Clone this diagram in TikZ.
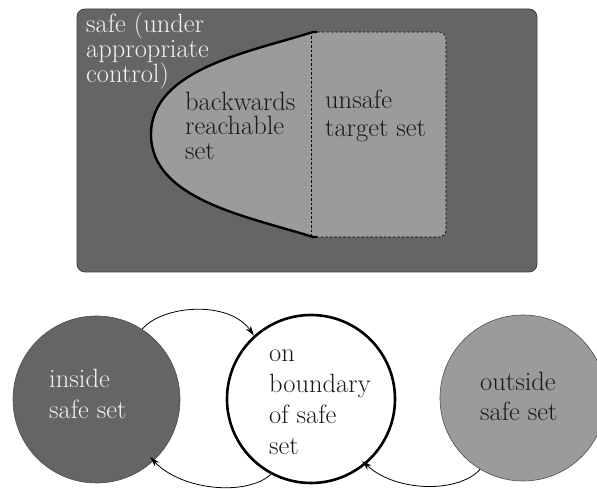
\documentclass[tikz,border=0pt]{standalone}
\usetikzlibrary{arrows.meta}
\definecolor{darkg}{HTML}{656565}
\definecolor{lightg}{HTML}{9B9B9B}
\definecolor{offwhite}{HTML}{F2F2F2}
\newcommand\stk[1]{\vtop{\lineskiplimit=-100pt\halign{##\hfil\cr#1\crcr}}}
\tikzset{
  lbl/.style={anchor=base west, inner sep=0pt, font=\rmfamily\fontsize{26.5}{#1}\selectfont},
  ondark/.style={text=offwhite},
  onlight/.style={text=black!90},
  conn/.style={-{Stealth[length=10pt,width=6pt]}, line width=0.8pt},
  disk/.style={circle, minimum size=#1, inner sep=0pt},
  thindash/.style={dash pattern=on 2.5pt off 2pt, line width=0.6pt},
}
\begin{document}
\begin{tikzpicture}[x=1pt,y=1pt]
\useasboundingbox (0,0) rectangle (597,489);
% outer safe region
\path[fill=darkg, draw=black!75, line width=0.8pt, rounded corners=8pt] (77,217) rectangle (537,480);
% backwards reachable set + target set
\fill[lightg] (313,457) .. controls (250,437) and (151,420) .. (151,354.5)
  .. controls (151,289) and (250,272) .. (313,252)
  -- (439,252) arc[start angle=-90,end angle=0,radius=7]
  -- (446,450) arc[start angle=0,end angle=90,radius=7] -- cycle;
\draw[thindash] (311,457) -- (311,252);
\draw[thindash] (313,457) -- (439,457) arc[start angle=90,end angle=0,radius=7]
  -- (446,259) arc[start angle=0,end angle=-90,radius=7] -- (313,252);
\draw[line width=2.4pt] (317,457) -- (313,457) .. controls (250,437) and (151,420) .. (151,354.5)
  .. controls (151,289) and (250,272) .. (313,252) -- (317,252);
% labels top
\node[lbl=24.7, ondark] (safe) at (86,456) {\stk{safe (under\cr appropriate\cr control)}};
\node[lbl=24.3, onlight] (back) at (185,378.3) {\stk{backwards\cr reachable\cr set}};
\node[lbl=28.4, onlight] (unsafe) at (325,380.7) {\stk{unsafe\cr target set}};
% circles
\node[disk=167pt, fill=darkg, draw=black!70, line width=0.6pt] (L) at (96.5,89.5) {};
\node[disk=168pt, fill=white, draw=black, line width=2.6pt] (M) at (311,90) {};
\node[disk=166pt, fill=lightg, draw=black!70, line width=0.6pt] (R) at (523,91) {};
\node[lbl=31, ondark] (tin) at (49,101) {\stk{inside\cr safe set}};
\node[lbl=30.7, onlight] (ton) at (269,127) {\stk{on\cr boundary\cr of safe\cr set}};
\node[lbl=29.5, onlight] (tout) at (480,98.3) {\stk{outside\cr safe set}};
% transitions
\draw[conn] (L.57) .. controls +(20,24) and +(-25,36) .. (M.132);
\draw[conn, shorten >=-5pt] (M.242) .. controls +(-24,-22) and +(28,-30) .. (L.313);
\draw[conn, shorten >=-5pt] (R.239) .. controls +(-22,-24) and +(30,-28) .. (M.310);
\end{tikzpicture}
\end{document}
